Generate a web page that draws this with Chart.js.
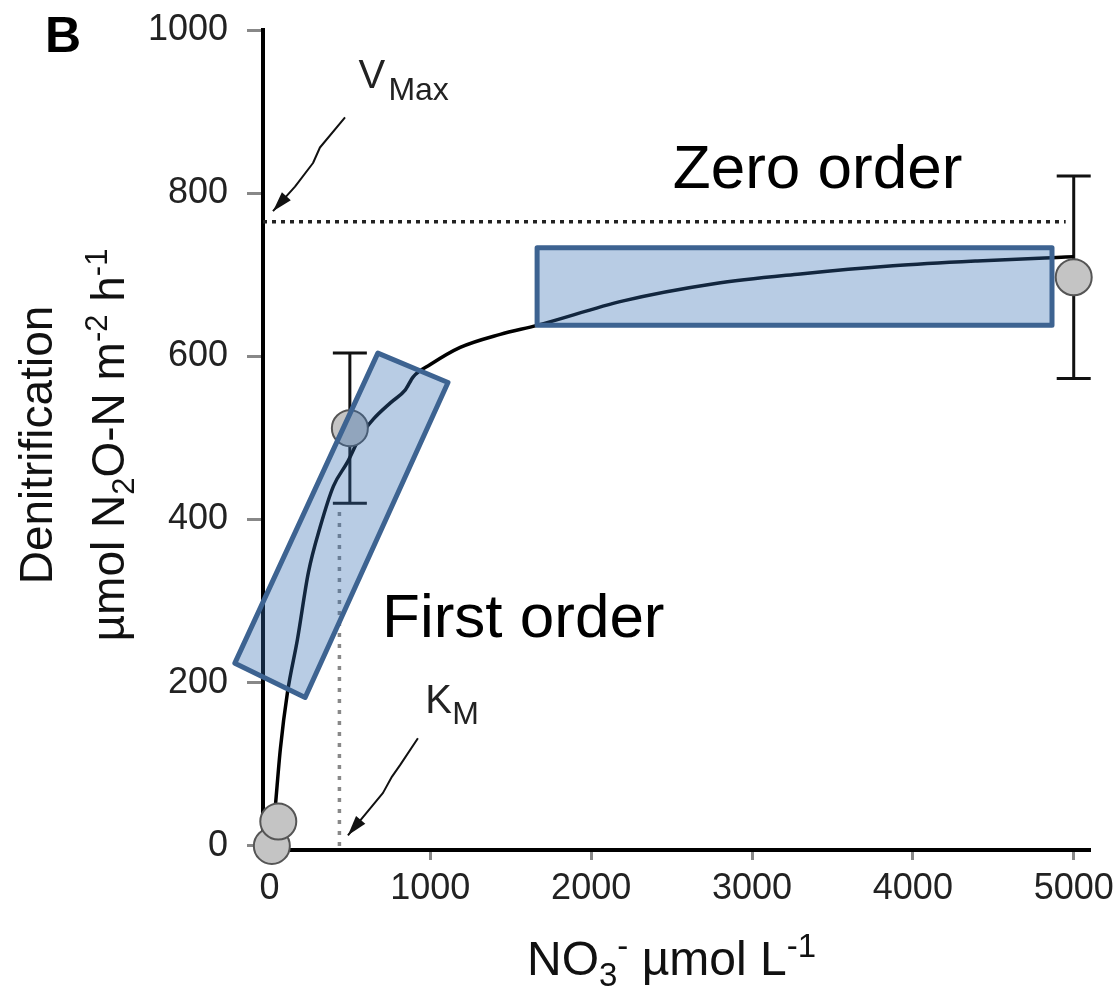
<!DOCTYPE html>
<html>
<head>
<meta charset="utf-8">
<title>Denitrification vs nitrate</title>
<script src="https://cdn.jsdelivr.net/npm/chart.js@4.4.1/dist/chart.umd.min.js"></script>
<style>
  html, body { margin: 0; padding: 0; background: #fff; }
  #wrap { width: 1116px; height: 994px; }
</style>
</head>
<body>
<div id="wrap"><canvas id="chart" width="1116" height="994"></canvas></div>
<script>
// measured rates (x = NO3- umol/L, y = umol N2O-N m-2 h-1)
const pointX = [15, 55, 500, 5000];
const pointY = [0, 30, 512, 697];
const pointErr = [0, 0, 92, 124];

// fitted curve
const curveX = [15, 37, 68, 112, 174, 242, 317, 398, 484, 565, 646, 752, 845, 894, 1000, 1186, 1435, 1664, 2200, 2764, 3300, 3876, 4400, 4865, 5000];
const curveY = [0, 49, 119, 188, 253, 335, 392, 441, 470, 502, 523, 543, 559, 575, 590, 611, 627, 638, 668, 689, 701, 711, 717, 721, 722];

const xTicks = [0, 1000, 2000, 3000, 4000, 5000];
const yTicks = [0, 200, 400, 600, 800, 1000];
const X_MIN = -40, X_MAX = 5095, Y_MIN = -5, Y_MAX = 1000;

const VMAX = 765;
const KM = 435;
const KM_LINE_TOP = 410;
const VMAX_LINE_END = 4950;

// highlighted regions (data units), first one is a tilted box: top, right, bottom, left corner
const firstBoxX = [674, 1110, 222, -215];
const firstBoxY = [604, 568, 182, 224];
const zeroBoxX = [1664, 4865];
const zeroBoxY = [638, 733];

// little pointer arrows (data units, last point is the tip)
const vmaxArrowX = [470, 314, 271, 159, 22];
const vmaxArrowY = [893, 856, 837, 808, 778];
const kmArrowX = [923, 812, 762, 706, 488];
const kmArrowY = [132, 99, 85, 65, 13];

const FONT = '"Liberation Sans", Arial, Helvetica, sans-serif';
Chart.defaults.font.family = FONT;

function partFont(p, size) {
  return (p.sub || p.sup ? Math.round(size * 0.68) : size) + 'px ' + FONT;
}
function richWidth(ctx, parts, size) {
  let w = 0;
  parts.forEach(p => { ctx.font = partFont(p, size); w += ctx.measureText(p.t).width; });
  return w;
}
function drawRich(ctx, parts, x, y, size) {
  let cx = x;
  parts.forEach(p => {
    ctx.font = partFont(p, size);
    const dy = p.sub ? size * 0.22 : (p.sup ? -size * 0.38 : 0);
    ctx.fillText(p.t, cx, y + dy);
    cx += ctx.measureText(p.t).width;
  });
}

function drawArrow(ctx, xs, ys, ax, ay) {
  const pts = ax.map((v, i) => [xs.getPixelForValue(v), ys.getPixelForValue(ay[i])]);
  ctx.beginPath();
  pts.forEach((p, i) => i ? ctx.lineTo(p[0], p[1]) : ctx.moveTo(p[0], p[1]));
  ctx.lineWidth = 2;
  ctx.strokeStyle = '#111';
  ctx.stroke();
  const [x1, y1] = pts[pts.length - 2];
  const [x2, y2] = pts[pts.length - 1];
  const a = Math.atan2(y2 - y1, x2 - x1);
  const L = 20, W = 6;
  ctx.beginPath();
  ctx.moveTo(x2, y2);
  ctx.lineTo(x2 - L * Math.cos(a) + W * Math.sin(a), y2 - L * Math.sin(a) - W * Math.cos(a));
  ctx.lineTo(x2 - L * Math.cos(a) - W * Math.sin(a), y2 - L * Math.sin(a) + W * Math.cos(a));
  ctx.closePath();
  ctx.fillStyle = '#111';
  ctx.fill();
}

const extras = {
  id: 'extras',
  beforeDatasetsDraw(chart) {
    const {ctx, scales: {x: xs, y: ys}} = chart;
    ctx.save();
    ctx.strokeStyle = '#111';
    ctx.lineWidth = 3;
    pointX.forEach((v, i) => {
      if (!pointErr[i]) return;
      const X = xs.getPixelForValue(v);
      const top = ys.getPixelForValue(pointY[i] + pointErr[i]);
      const bot = ys.getPixelForValue(pointY[i] - pointErr[i]);
      ctx.beginPath();
      ctx.moveTo(X, top); ctx.lineTo(X, bot);
      ctx.moveTo(X - 17, top); ctx.lineTo(X + 17, top);
      ctx.moveTo(X - 17, bot); ctx.lineTo(X + 17, bot);
      ctx.stroke();
    });
    ctx.restore();
  },
  afterDatasetsDraw(chart) {
    const {ctx, scales: {x: xs, y: ys}} = chart;
    ctx.save();
    ctx.fillStyle = 'rgba(52,109,178,0.35)';
    ctx.strokeStyle = '#3d6391';
    ctx.lineWidth = 5;
    ctx.lineJoin = 'round';

    ctx.beginPath();
    firstBoxX.forEach((v, i) => {
      const X = xs.getPixelForValue(v), Y = ys.getPixelForValue(firstBoxY[i]);
      i ? ctx.lineTo(X, Y) : ctx.moveTo(X, Y);
    });
    ctx.closePath();
    ctx.fill();
    ctx.stroke();

    const zx0 = xs.getPixelForValue(zeroBoxX[0]), zx1 = xs.getPixelForValue(zeroBoxX[1]);
    const zy0 = ys.getPixelForValue(zeroBoxY[1]), zy1 = ys.getPixelForValue(zeroBoxY[0]);
    ctx.beginPath();
    ctx.rect(zx0, zy0, zx1 - zx0, zy1 - zy0);
    ctx.fill();
    ctx.stroke();

    drawArrow(ctx, xs, ys, vmaxArrowX, vmaxArrowY);
    drawArrow(ctx, xs, ys, kmArrowX, kmArrowY);

    ctx.fillStyle = '#000';
    ctx.textBaseline = 'alphabetic';
    ctx.textAlign = 'left';
    ctx.font = '62px ' + FONT;
    ctx.fillText('First order', xs.getPixelForValue(700), ys.getPixelForValue(256));
    ctx.fillText('Zero order', xs.getPixelForValue(2508), ys.getPixelForValue(806));

    ctx.fillStyle = '#222';
    ctx.font = '40px ' + FONT;
    ctx.fillText('V', xs.getPixelForValue(553), ys.getPixelForValue(929));
    ctx.font = '32px ' + FONT;
    ctx.fillText('Max', xs.getPixelForValue(553) + 30, ys.getPixelForValue(929) + 12);
    ctx.font = '40px ' + FONT;
    ctx.fillText('K', xs.getPixelForValue(968), ys.getPixelForValue(163));
    ctx.font = '32px ' + FONT;
    ctx.fillText('M', xs.getPixelForValue(968) + 27, ys.getPixelForValue(163) + 11);
    ctx.restore();
  },
  afterDraw(chart) {
    const {ctx} = chart;
    ctx.save();
    ctx.fillStyle = '#000';
    ctx.textAlign = 'left';
    ctx.textBaseline = 'alphabetic';
    ctx.font = 'bold 50px ' + FONT;
    ctx.fillText('B', 45, 52);

    ctx.fillStyle = '#111';
    const xTitle = [{t: 'NO'}, {t: '3', sub: true}, {t: '-', sup: true}, {t: ' µmol L'}, {t: '-1', sup: true}];
    drawRich(ctx, xTitle, 527, 975, 48);

    const line1 = [{t: 'Denitrification'}];
    const line2 = [{t: 'µmol N'}, {t: '2', sub: true}, {t: 'O-N m'}, {t: '-2', sup: true}, {t: ' h'}, {t: '-1', sup: true}];
    ctx.translate(52, 445);
    ctx.rotate(-Math.PI / 2);
    drawRich(ctx, line1, -richWidth(ctx, line1, 46) / 2, 0, 46);
    ctx.translate(0, 72);
    drawRich(ctx, line2, -richWidth(ctx, line2, 46) / 2, 0, 46);
    ctx.restore();
  }
};

new Chart(document.getElementById('chart'), {
  type: 'scatter',
  data: {
    datasets: [
      {
        label: 'measured',
        data: pointX.map((x, i) => ({x: x, y: pointY[i]})),
        pointRadius: 18,
        pointBackgroundColor: '#c4c4c4',
        pointBorderColor: '#555',
        pointBorderWidth: 2,
        showLine: false,
        clip: false,
        order: 0
      },
      {
        label: 'fit',
        data: curveX.map((x, i) => ({x: x, y: curveY[i]})),
        showLine: true,
        borderColor: '#000',
        borderWidth: 3.5,
        pointRadius: 0,
        cubicInterpolationMode: 'monotone',
        clip: false,
        order: 1
      },
      {
        label: 'Vmax',
        data: [{x: X_MIN, y: VMAX}, {x: VMAX_LINE_END, y: VMAX}],
        showLine: true,
        borderColor: '#222',
        borderWidth: 3.5,
        borderDash: [4, 5],
        pointRadius: 0,
        clip: false,
        order: 2
      },
      {
        label: 'Km',
        data: [{x: KM, y: 0}, {x: KM, y: KM_LINE_TOP}],
        showLine: true,
        borderColor: '#888',
        borderWidth: 3.5,
        borderDash: [4, 7],
        pointRadius: 0,
        clip: false,
        order: 2
      }
    ]
  },
  options: {
    responsive: false,
    animation: false,
    devicePixelRatio: 1,
    layout: { padding: { top: 30, right: 27, bottom: 0, left: 0 } },
    plugins: { legend: { display: false }, tooltip: { enabled: false } },
    scales: {
      x: {
        type: 'linear',
        min: X_MIN,
        max: X_MAX,
        afterBuildTicks: s => { s.ticks = xTicks.map(v => ({value: v})); },
        afterFit: s => { s.height = 144; s.paddingLeft = 0; s.paddingRight = 0; },
        ticks: { font: { size: 36 }, color: '#222', padding: 7, maxRotation: 0, callback: v => String(v) },
        grid: { drawOnChartArea: false, drawTicks: true, tickLength: 10, color: '#888', lineWidth: 3 },
        border: { display: true, color: '#000', width: 4 }
      },
      y: {
        type: 'linear',
        min: Y_MIN,
        max: Y_MAX,
        afterBuildTicks: s => { s.ticks = yTicks.map(v => ({value: v})); },
        afterFit: s => { s.width = 263; s.paddingTop = 0; s.paddingBottom = 0; },
        ticks: { font: { size: 36 }, color: '#222', padding: 19, callback: v => String(v) },
        grid: { drawOnChartArea: false, drawTicks: true, tickLength: 16, color: '#888', lineWidth: 3 },
        border: { display: true, color: '#000', width: 4 }
      }
    }
  },
  plugins: [extras]
});
</script>
</body>
</html>
